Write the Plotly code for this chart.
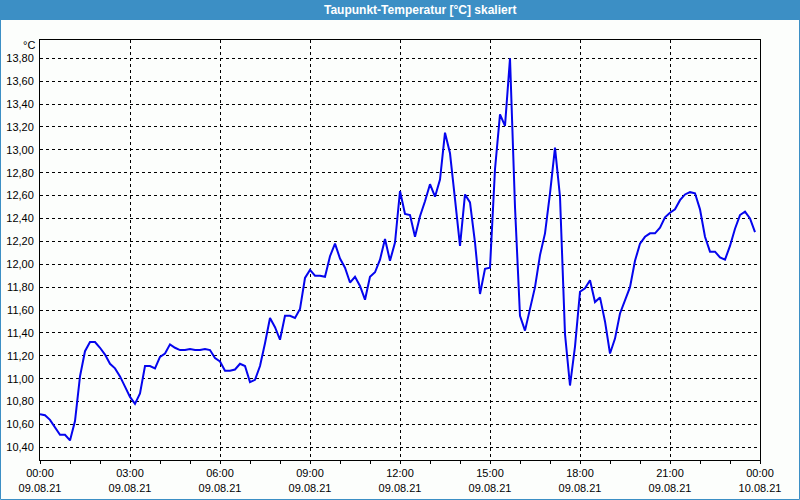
import plotly.graph_objects as go
import pandas as pd

# Dew point values, 10-minute steps from 09.08.21 00:00 to 23:50
values = [
    10.69, 10.68, 10.64, 10.57, 10.51, 10.51,
    10.46, 10.63, 11.02, 11.24, 11.32, 11.32,
    11.27, 11.21, 11.13, 11.09, 11.02, 10.93,
    10.84, 10.78, 10.87, 11.11, 11.11, 11.09,
    11.19, 11.22, 11.30, 11.27, 11.25, 11.25,
    11.26, 11.25, 11.25, 11.26, 11.25, 11.18,
    11.15, 11.07, 11.07, 11.08, 11.13, 11.11,
    10.97, 10.99, 11.11, 11.31, 11.53, 11.45,
    11.34, 11.55, 11.55, 11.53, 11.61, 11.88,
    11.95, 11.90, 11.90, 11.89, 12.07, 12.18,
    12.05, 11.97, 11.84, 11.89, 11.81, 11.69,
    11.89, 11.93, 12.04, 12.22, 12.03, 12.19,
    12.64, 12.44, 12.43, 12.24, 12.42, 12.55,
    12.70, 12.59, 12.74, 13.15, 12.97, 12.57,
    12.16, 12.61, 12.54, 12.19, 11.74, 11.96,
    11.97, 12.83, 13.31, 13.21, 13.80, 12.50,
    11.55, 11.42, 11.60, 11.80, 12.08, 12.27,
    12.62, 13.02, 12.59, 11.39, 10.94, 11.28,
    11.76, 11.79, 11.86, 11.67, 11.71, 11.50,
    11.22, 11.35, 11.57, 11.68, 11.80, 12.03,
    12.18, 12.24, 12.27, 12.27, 12.32, 12.41,
    12.45, 12.48, 12.56, 12.61, 12.63, 12.62,
    12.48, 12.24, 12.11, 12.11, 12.06, 12.04,
    12.16, 12.31, 12.43, 12.46, 12.40, 12.28,
]
times = pd.date_range("2021-08-09 00:00", periods=len(values), freq="10min")

x_tick_vals = pd.date_range("2021-08-09 00:00", "2021-08-10 00:00", freq="3h")
x_tick_text = [
    "00:00<br>09.08.21", "03:00<br>09.08.21", "06:00<br>09.08.21",
    "09:00<br>09.08.21", "12:00<br>09.08.21", "15:00<br>09.08.21",
    "18:00<br>09.08.21", "21:00<br>09.08.21", "00:00<br>10.08.21",
]
y_tick_vals = [10.40 + 0.2 * i for i in range(18)]
y_tick_text = [f"{v:.2f}".replace(".", ",") for v in y_tick_vals]

title_text = "Taupunkt-Temperatur [°C] skaliert"
unit_text = "°C"

W, H = 800, 500
L, R, T, B = 40, 40, 40, 40
PW, PH = W - L - R, H - T - B

def px_x(p):
    return (p - L) / PW

def px_y(p):
    return (H - B - p) / PH

BAR = "#3c8fc5"
FONT = "Liberation Sans"

fig = go.Figure()
fig.add_trace(go.Scatter(
    x=times, y=values, mode="lines",
    line=dict(color="#0505ee", width=2),
    hoverinfo="skip", showlegend=False,
))

fig.update_layout(
    width=W, height=H,
    margin=dict(l=L, r=R, t=T, b=B, autoexpand=False),
    paper_bgcolor="#fcfefc",
    plot_bgcolor="#fcfefc",
    font=dict(family=FONT, size=11, color="#000000"),
    showlegend=False,
    xaxis=dict(
        type="date",
        range=[x_tick_vals[0], x_tick_vals[-1]],
        tickvals=list(x_tick_vals), ticktext=x_tick_text,
        ticks="outside", ticklen=3, tickcolor="#000000", tickwidth=1,
        minor=dict(dtick=3600000, ticks="outside", ticklen=3,
                   tickcolor="#000000", showgrid=False),
        showgrid=True, gridcolor="#000000", gridwidth=1, griddash="3px,3px",
        showline=True, linecolor="#000000", linewidth=1, mirror=True,
        zeroline=False, fixedrange=True,
        tickfont=dict(family=FONT, size=11, color="#000000"),
    ),
    yaxis=dict(
        range=[10.289, 13.96],
        tickvals=y_tick_vals, ticktext=y_tick_text,
        ticks="", ticklabelstandoff=3,
        showgrid=True, gridcolor="#000000", gridwidth=1, griddash="3px,3px",
        showline=True, linecolor="#000000", linewidth=1, mirror=True,
        zeroline=False, fixedrange=True,
        tickfont=dict(family=FONT, size=11, color="#000000"),
    ),
    shapes=[
        dict(type="rect", xref="paper", yref="paper",
             x0=px_x(0), x1=px_x(W), y0=px_y(20), y1=px_y(0),
             fillcolor=BAR, line=dict(width=0), layer="below"),
        dict(type="rect", xref="paper", yref="paper",
             x0=px_x(0.5), x1=px_x(W - 0.5), y0=px_y(H - 0.5), y1=px_y(0),
             fillcolor="rgba(0,0,0,0)", line=dict(color=BAR, width=1)),
    ],
    annotations=[
        dict(text=f"<b>{title_text}</b>", xref="paper", yref="paper",
             x=px_x(420), y=px_y(10), xanchor="center", yanchor="middle",
             showarrow=False, font=dict(family=FONT, size=12, color="#ffffff")),
        dict(text=unit_text, xref="paper", yref="paper",
             x=px_x(37), y=px_y(45), xanchor="right", yanchor="middle",
             showarrow=False, font=dict(family=FONT, size=11, color="#000000")),
    ],
)

fig.write_html("out.html")
